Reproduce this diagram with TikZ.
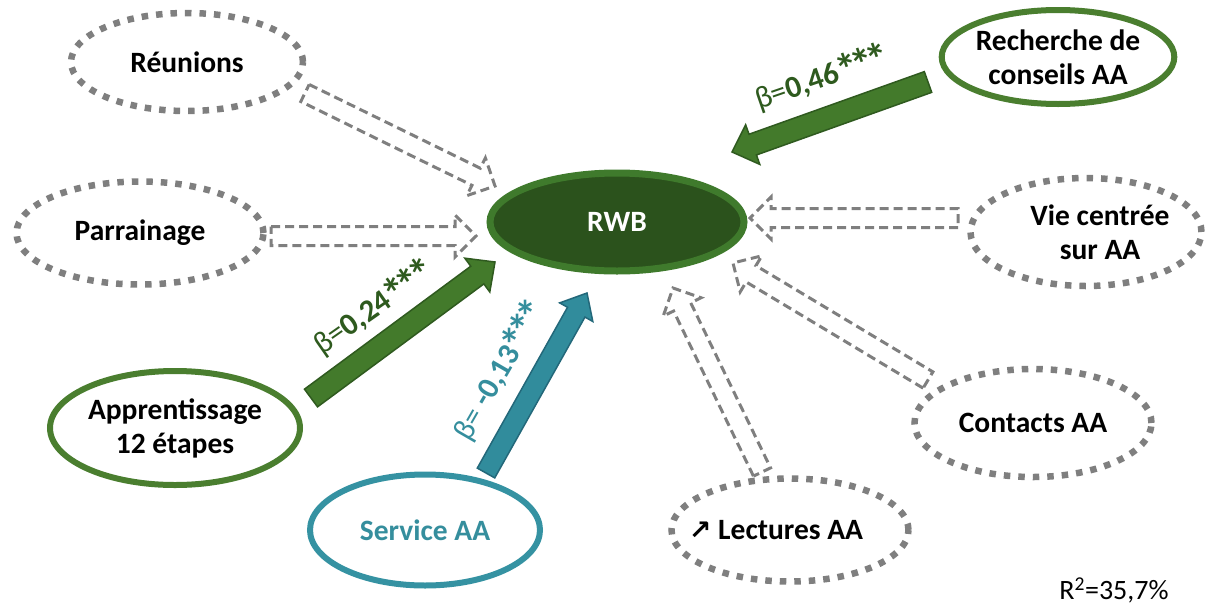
\documentclass[tikz,border=0pt]{standalone}
\usepackage{fontspec}
\usepackage{graphicx}
\setmainfont{Carlito}
\newfontfamily\dvfont{DejaVu Sans}
\usetikzlibrary{shapes.geometric,calc}
\definecolor{dotgray}{HTML}{7F7F7F}
\definecolor{rwbfill}{HTML}{2B521C}
\definecolor{rwbring}{HTML}{3F7A2C}
\definecolor{grnring}{HTML}{4A7E2F}
\definecolor{grnfill}{HTML}{437A2B}
\definecolor{grnline}{HTML}{2F5A1F}
\definecolor{grntext}{HTML}{2E5A1E}
\definecolor{tealring}{HTML}{3592A2}
\definecolor{tealfill}{HTML}{318C9C}
\definecolor{tealline}{HTML}{23687A}
\definecolor{tealtext}{HTML}{358E9D}
\newcommand\blockarr[6]{%
  \coordinate (tmpH) at ($(#3)!#6!(#2)$);
  \draw[#1] ($(#2)!#4!90:(#3)$) -- ($(tmpH)!#4!90:(#3)$) -- ($(tmpH)!#5!90:(#3)$) -- (#3)
    -- ($(tmpH)!#5!-90:(#3)$) -- ($(tmpH)!#4!-90:(#3)$) -- ($(#2)!#4!-90:(#3)$) -- cycle;
}
\newcommand\onestar{\kern-0.1em\raisebox{-0.2em}{\scalebox{1.45}{\bfseries *}}\kern-0.1em}
\newcommand\stars{\kern0.05em\onestar\onestar\onestar}
\tikzset{
  lblfont/.style={font=\fontsize{29.5}{34}\selectfont\bfseries},
  dotell/.style={ellipse, draw=dotgray, line width=6.5pt, dash pattern=on 6.5pt off 8pt,
    inner sep=0pt, align=center, lblfont},
  grnell/.style={ellipse, draw=grnring, line width=6pt, inner sep=0pt, align=center, lblfont},
  tealell/.style={ellipse, draw=tealring, line width=6pt, inner sep=0pt, align=center,
    text=tealtext, lblfont},
  hollowarr/.style={draw=dotgray, line width=3pt, dash pattern=on 9pt off 5pt, line join=miter},
  grnarr/.style={draw=grnline, fill=grnfill, line width=1.5pt, line join=miter},
  tealarr/.style={draw=tealline, fill=tealfill, line width=1.5pt, line join=miter},
  coef/.style={font=\fontsize{31}{34}\selectfont, inner sep=0pt}
}
\begin{document}
\begin{tikzpicture}[x=1pt,y=-1pt]
\useasboundingbox (0,0) rectangle (1215,608);
% nodes
\node[ellipse, draw=rwbring, fill=rwbfill, line width=7pt, minimum width=254pt, minimum height=98pt,
  text=white, lblfont] (rwb) at (617,222) {RWB};
\node[dotell, minimum width=232pt, minimum height=98pt] (reu) at (187,62) {Réunions};
\node[dotell, minimum width=247pt, minimum height=103pt] (par) at (140,233) {Parrainage};
\node[grnell, minimum width=250pt, minimum height=114pt] (app) at (175,428) {Apprentissage\\12 étapes};
\node[tealell, minimum width=230pt, minimum height=111pt] (ser) at (425,530) {Service AA};
\node[dotell, minimum width=237pt, minimum height=103pt] (lec) at (790,530) {};
\node[lblfont] (lect) at (776,530) {{\dvfont\bfseries\fontsize{27}{30}\selectfont ↗} Lectures AA};
\node[dotell, minimum width=237pt, minimum height=108pt] (con) at (1033,423) {Contacts AA};
\node[dotell, minimum width=231pt, minimum height=108pt] (vie) at (1086,232) {};
\node[lblfont, align=center] (viet) at (1100,232) {Vie centrée\\sur AA};
\node[grnell, minimum width=231pt, minimum height=94pt] (rec) at (1058,57) {Recherche de\\conseils AA};
% arrow end points
\coordinate (reuA) at (305,93);  \coordinate (reuB) at (495,186);
\coordinate (parA) at (271,236); \coordinate (parB) at (476,236);
\coordinate (vieA) at (958,218); \coordinate (vieB) at (750,218);
\coordinate (conA) at (928,380); \coordinate (conB) at (733,263);
\coordinate (lecA) at (762,472); \coordinate (lecB) at (673,288);
\coordinate (recA) at (928,82);  \coordinate (recB) at (732,152);
\coordinate (appA) at (311,398); \coordinate (appB) at (495,262);
\coordinate (serA) at (486,473); \coordinate (serB) at (587,293);
% hollow arrows
\blockarr{hollowarr}{reuA}{reuB}{9.5pt}{21pt}{21pt}
\blockarr{hollowarr}{parA}{parB}{9.5pt}{21pt}{21pt}
\blockarr{hollowarr}{vieA}{vieB}{9.5pt}{21pt}{21pt}
\blockarr{hollowarr}{conA}{conB}{9.5pt}{21pt}{21pt}
\blockarr{hollowarr}{lecA}{lecB}{9.5pt}{21pt}{21pt}
% solid arrows
\blockarr{grnarr}{recA}{recB}{11pt}{21pt}{22pt}
\blockarr{grnarr}{appA}{appB}{11pt}{21pt}{22pt}
\blockarr{tealarr}{serA}{serB}{10pt}{19pt}{22pt}
% coefficients
\node[coef, text=grntext, rotate=19] (c1) at (821,78) {β=\textbf{0,46}\stars};
\node[coef, text=grntext, rotate=35] (c2) at (373,308) {β=\textbf{0,24}\stars};
\node[coef, text=tealtext, rotate=60] (c3) at (499,371) {β= \textbf{-0,13}\stars};
\node[font=\fontsize{28}{30}\selectfont] (r2) at (1114,590) {R\textsuperscript{2}=35,7\%};
\end{tikzpicture}
\end{document}
